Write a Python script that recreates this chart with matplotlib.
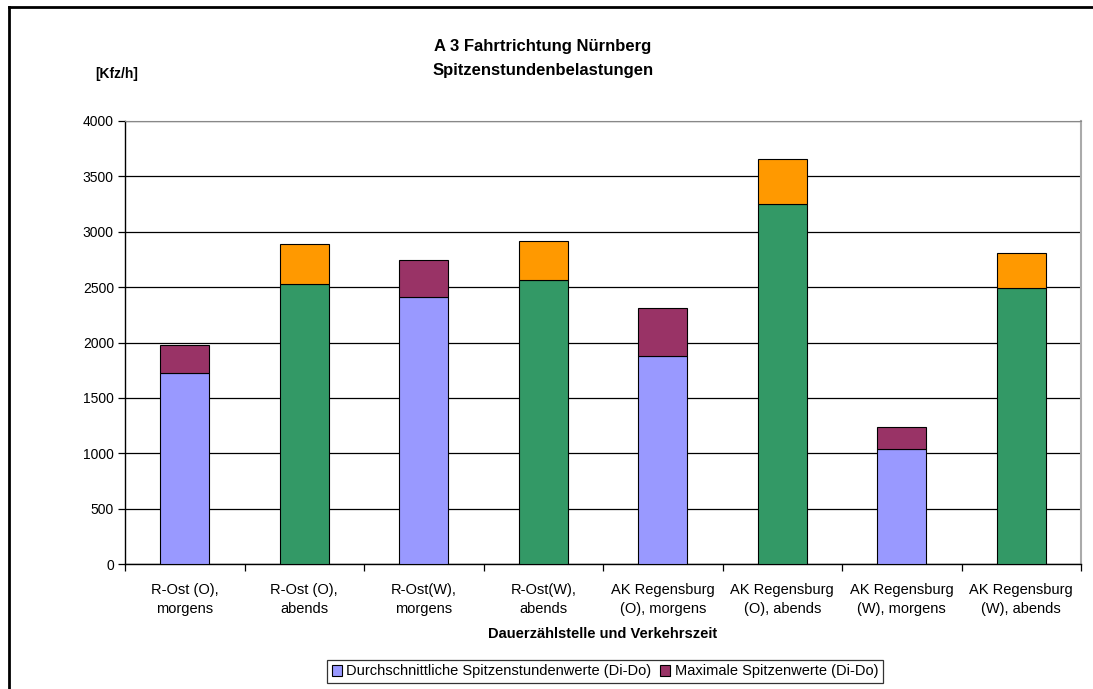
import numpy as np
import matplotlib
matplotlib.use("Agg")
from matplotlib import pyplot as plt
from matplotlib.lines import Line2D
from matplotlib.patches import Patch

plt.rcParams['font.family'] = ['Liberation Sans', 'DejaVu Sans']

categories = [
    "R-Ost (O),\nmorgens", "R-Ost (O),\nabends",
    "R-Ost(W),\nmorgens", "R-Ost(W),\nabends",
    "AK Regensburg\n(O), morgens", "AK Regensburg\n(O), abends",
    "AK Regensburg\n(W), morgens", "AK Regensburg\n(W), abends",
]
# average peak hour (Di-Do) and the maximum on top of it
avg_peak = [1727, 2531, 2414, 2562, 1875, 3248, 1041, 2489]
max_peak = [1975, 2892, 2742, 2914, 2312, 3654, 1240, 2808]
is_evening = [False, True, False, True, False, True, False, True]

W, H = 1093, 689
fig = plt.figure(figsize=(W / 100, H / 100), dpi=100)
ax = fig.add_axes((125 / W, 1 - 564 / H, (1081 - 125) / W, (564 - 121) / H))

x = np.arange(len(categories))
extra = np.array(max_peak) - np.array(avg_peak)
base_col = ['#339966' if e else '#9999FF' for e in is_evening]
top_col = ['#FF9900' if e else '#993366' for e in is_evening]

ax.bar(x, avg_peak, width=0.41, color=base_col, edgecolor='black', linewidth=0.8, zorder=3)
ax.bar(x, extra, bottom=avg_peak, width=0.41, color=top_col, edgecolor='black', linewidth=0.8, zorder=3)

ax.set_xlim(-0.5, len(categories) - 0.5)
ax.set_ylim(0, 4000)
ax.set_yticks(np.arange(0, 4001, 500))
ax.yaxis.grid(True, color='black', linewidth=0.9, zorder=0)
ax.tick_params(axis='y', labelsize=10, length=5, width=0.9, direction='out', pad=3)

# boundary ticks without labels, category labels in between
ax.set_xticks(np.arange(-0.5, len(categories)), minor=False)
ax.set_xticklabels([])
ax.set_xticks(x, minor=True)
ax.set_xticklabels(categories, minor=True, fontsize=10.5, linespacing=1.45)
ax.tick_params(axis='x', which='major', length=5, width=0.9, direction='out')
ax.tick_params(axis='x', which='minor', length=0, pad=14)

for s in ['left', 'bottom']:
    ax.spines[s].set_color('black')
    ax.spines[s].set_linewidth(1.0)
ax.spines['top'].set_color('#888888')
ax.spines['right'].set_color('#AAAAAA')
ax.spines['right'].set_linewidth(1.5)

fig.text(543 / W, 1 - 46 / H, "A 3 Fahrtrichtung Nürnberg", ha='center', va='center',
         fontsize=12, fontweight='bold')
fig.text(543 / W, 1 - 70 / H, "Spitzenstundenbelastungen", ha='center', va='center',
         fontsize=12, fontweight='bold')
fig.text(117 / W, 1 - 74 / H, "[Kfz/h]", ha='center', va='center', fontsize=10, fontweight='bold')
fig.text(603 / W, 1 - 634 / H, "Dauerzählstelle und Verkehrszeit", ha='center', va='center',
         fontsize=10.5, fontweight='bold')

handles = [
    Patch(facecolor='#9999FF', edgecolor='black', linewidth=0.8,
          label="Durchschnittliche Spitzenstundenwerte (Di-Do)"),
    Patch(facecolor='#993366', edgecolor='black', linewidth=0.8,
          label="Maximale Spitzenwerte (Di-Do)"),
]
leg = fig.legend(handles=handles, loc='center', bbox_to_anchor=(605 / W, 1 - 671.5 / H), ncol=2,
                 fontsize=10.5, frameon=True, fancybox=False, edgecolor='black',
                 handlelength=0.7, handleheight=0.7, handletextpad=0.3, columnspacing=0.6,
                 borderpad=0.3, borderaxespad=0)
leg.get_frame().set_linewidth(0.9)

# outer chart frame (left and top edges)
fig.add_artist(Line2D([9 / W, 9 / W], [0, 1 - 7 / H], transform=fig.transFigure, color='black', linewidth=2))
fig.add_artist(Line2D([9 / W, 1], [1 - 7 / H, 1 - 7 / H], transform=fig.transFigure, color='black', linewidth=2))

fig.savefig("out.png", dpi=100)
